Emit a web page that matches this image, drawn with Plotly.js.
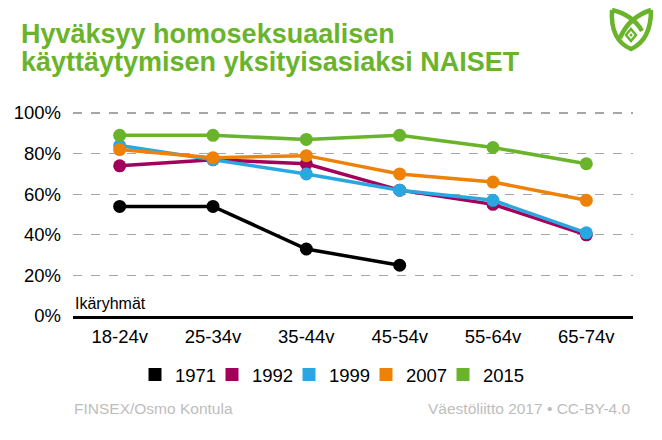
<!DOCTYPE html>
<html>
<head>
<meta charset="utf-8">
<script src="https://cdn.plot.ly/plotly-3.0.1.min.js"></script>
<style>html,body{margin:0;padding:0;background:#fff;}#chart{width:662px;height:440px;}</style>
</head>
<body>
<div id="chart"></div>
<script>
const categories = ["18-24v", "25-34v", "35-44v", "45-54v", "55-64v", "65-74v"];
const years = ["1971", "1992", "1999", "2007", "2015"];
const v1971 = [54, 54, 33, 25, null, null];
const v1992 = [74, 77, 75, 62, 55, 40];
const v1999 = [84, 77, 70, 62, 57, 41];
const v2007 = [82, 78, 79, 70, 66, 57];
const v2015 = [89, 89, 87, 89, 83, 75];
const yTickVals = [0, 20, 40, 60, 80, 100];
const yTickText = ["0%", "20%", "40%", "60%", "80%", "100%"];
const titleLines = ["Hyväksyy homoseksuaalisen", "käyttäytymisen yksityisasiaksi NAISET"];
const colors = ["#000000", "#a3005c", "#2aa7e0", "#ee8208", "#6ab42c"];
const seriesValues = [v1971, v1992, v1999, v2007, v2015];

const FONT = "Liberation Sans, Arial, sans-serif";
const traces = [];
seriesValues.forEach((vals, i) => {
  traces.push({
    x: categories, y: vals, type: "scatter", mode: "lines+markers",
    name: years[i], showlegend: false, cliponaxis: false,
    line: {color: colors[i], width: 3.5},
    marker: {color: colors[i], size: 13},
    hoverinfo: "skip"
  });
});
years.forEach((yr, i) => {
  traces.push({
    x: [null], y: [null], type: "scatter", mode: "markers", name: yr,
    marker: {color: colors[i], size: 13, symbol: "square"}, showlegend: true
  });
});
// spacer entry so the last legend label is not clipped
traces.push({x: [null], y: [null], type: "scatter", mode: "markers", name: "\u00a0",
  marker: {color: "rgba(0,0,0,0)", size: 1}, showlegend: true});

// plot area in pixels
const L = 73, R = 633, T = 112, B = 316;
const px = x => (x - L) / (R - L);
const py = y => (B - y) / (B - T);
function path(pts, close) {
  let s = "";
  pts.forEach((p, i) => {
    if (i === 0) s += "M" + px(p[0]) + "," + py(p[1]);
    else if (p.length === 4) s += " Q" + px(p[0]) + "," + py(p[1]) + " " + px(p[2]) + "," + py(p[3]);
    else s += " L" + px(p[0]) + "," + py(p[1]);
  });
  return s + (close ? " Z" : "");
}
const logoColor = "#6ab42c";
const shapes = [
  {type: "path", xref: "paper", yref: "paper", path: path([[612, 10], [610, 40, 631, 49], [651, 40, 651, 10]]), line: {color: logoColor, width: 4.5}},
  {type: "path", xref: "paper", yref: "paper", path: path([[612, 10], [633, 15, 642, 31]]), line: {color: logoColor, width: 4.5}},
  {type: "path", xref: "paper", yref: "paper", path: path([[651, 10], [629, 17, 620, 38]]), line: {color: logoColor, width: 4.5}},
  {type: "path", xref: "paper", yref: "paper", path: path([[631, 29], [636, 35], [631, 41], [626, 35]], true), line: {color: logoColor, width: 2.5}},
  {type: "circle", xref: "paper", yref: "paper", x0: px(629.5), x1: px(632.5), y0: py(36.5), y1: py(33.5), fillcolor: logoColor, line: {width: 0}}
];

const layout = {
  width: 662, height: 440,
  margin: {l: L, r: 662 - R, t: T, b: 440 - B},
  paper_bgcolor: "#fff", plot_bgcolor: "#fff",
  font: {family: FONT, color: "#000", size: 18.5},
  xaxis: {
    type: "category", range: [-0.5, 5.5], showgrid: false, zeroline: false,
    showline: true, linecolor: "#000", linewidth: 2.5, ticks: "",
    tickfont: {family: FONT, size: 18.5, color: "#000"}, ticklabelstandoff: 2, fixedrange: true
  },
  yaxis: {
    range: [0, 100.5], tickvals: yTickVals, ticktext: yTickText,
    showgrid: true, gridcolor: "#a6a6a6", griddash: "dash", gridwidth: 1.2,
    zeroline: false, showline: false, ticks: "",
    tickfont: {family: FONT, size: 18.5, color: "#000"}, ticklabelstandoff: 11, fixedrange: true
  },
  legend: {
    orientation: "h", x: 135 / 662, xref: "container", xanchor: "left",
    y: 1 - 375 / 440, yref: "container", yanchor: "middle",
    font: {family: FONT, size: 18.5, color: "#000"},
    entrywidth: 32, itemclick: false, itemdoubleclick: false, tracegroupgap: 0
  },
  shapes: shapes,
  annotations: [
    {text: "<b>" + titleLines[0] + "</b>", xref: "paper", yref: "paper", x: px(19), y: py(34), xanchor: "left", yanchor: "middle", showarrow: false, font: {family: FONT, size: 27, color: "#6ab42c"}},
    {text: "<b>" + titleLines[1] + "</b>", xref: "paper", yref: "paper", x: px(19), y: py(62), xanchor: "left", yanchor: "middle", showarrow: false, font: {family: FONT, size: 27, color: "#6ab42c"}},
    {text: "Ikäryhmät", xref: "paper", yref: "paper", x: 0, y: py(303), xanchor: "left", yanchor: "middle", showarrow: false, font: {family: FONT, size: 16, color: "#000"}},
    {text: "FINSEX/Osmo Kontula", xref: "paper", yref: "paper", x: px(72), y: py(408), xanchor: "left", yanchor: "middle", showarrow: false, font: {family: FONT, size: 15.5, color: "#bdbdbd"}},
    {text: "Väestöliitto 2017 • CC-BY-4.0", xref: "paper", yref: "paper", x: px(633), y: py(408), xanchor: "right", yanchor: "middle", showarrow: false, font: {family: FONT, size: 15.5, color: "#bdbdbd"}}
  ],
  showlegend: true
};
Plotly.newPlot("chart", traces, layout, {staticPlot: true, displayModeBar: false});
</script>
</body>
</html>
